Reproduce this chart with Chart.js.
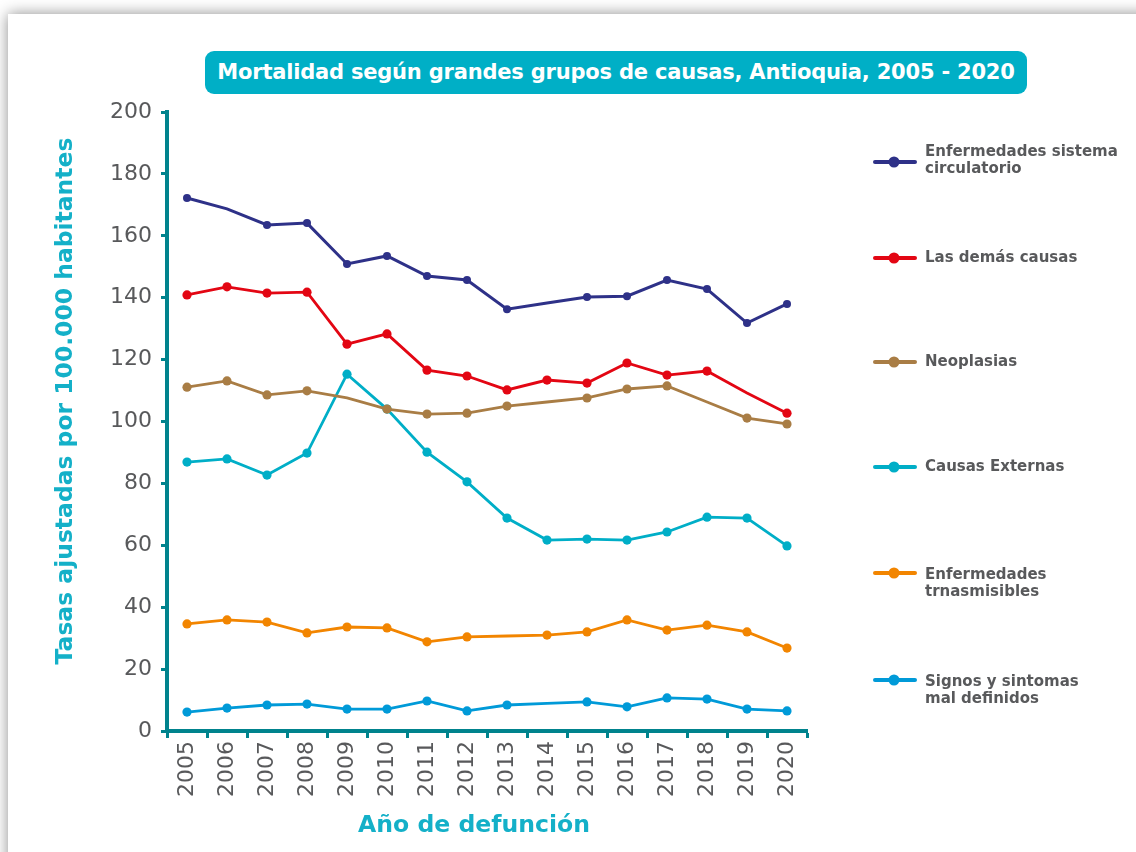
<!DOCTYPE html>
<html>
<head>
<meta charset="utf-8">
<script src="https://cdn.jsdelivr.net/npm/chart.js@4.4.1/dist/chart.umd.min.js"></script>
<style>
  html, body { margin:0; padding:0; width:1136px; height:852px; overflow:hidden; background:#ffffff; }
  #card { position:absolute; left:8px; top:14px; width:1200px; height:900px; background:#ffffff;
          box-shadow: 0 0 14px rgba(0,0,0,0.45); }
  #title { position:absolute; left:205px; top:51px; width:822px; height:43px; background:#00AFC6;
           border-radius:9px; color:#fff; font-family:"DejaVu Sans", sans-serif; font-weight:bold;
           font-size:21px; line-height:43px; text-align:center; letter-spacing:-0.2px; }
  canvas { position:absolute; left:0; top:0; }
</style>
</head>
<body>
<div id="card"></div>
<div id="title">Mortalidad según grandes grupos de causas, Antioquia, 2005 - 2020</div>
<canvas id="c" width="1136" height="852"></canvas>
<script>
const years = ['2005','2006','2007','2008','2009','2010','2011','2012','2013','2014','2015','2016','2017','2018','2019','2020'];
const yTicks = [0,20,40,60,80,100,120,140,160,180,200];

const seriesNames = [
  'Enfermedades sistema\ncirculatorio',
  'Las demás causas',
  'Neoplasias',
  'Causas Externas',
  'Enfermedades\ntrnasmisibles',
  'Signos y sintomas\nmal definidos'
];
const circulatorio  = [172.2,168.7,163.5,164.1,150.9,153.5,147.0,145.7,136.3,138.3,140.2,140.5,145.7,142.8,131.8,138.0];
const demasCausas   = [140.9,143.5,141.5,141.8,125.0,128.3,116.6,114.7,110.2,113.4,112.4,118.9,115.0,116.3,109.2,102.7];
const neoplasias    = [111.1,113.1,108.6,109.9,107.6,104.0,102.4,102.7,105.0,106.3,107.6,110.5,111.5,106.3,101.1,99.2];
const externas      = [86.9,87.9,82.7,89.8,115.3,104.0,90.1,80.5,68.8,61.7,62.0,61.7,64.3,69.1,68.8,59.8];
const transmisibles = [34.6,35.9,35.2,31.7,33.6,33.3,28.8,30.4,30.7,31.0,32.0,35.9,32.6,34.2,32.0,26.8];
const signos        = [6.1,7.4,8.4,8.7,7.1,7.1,9.7,6.5,8.4,8.9,9.4,7.8,10.7,10.3,7.1,6.5];

const seriesValues = [circulatorio, demasCausas, neoplasias, externas, transmisibles, signos];
const colors = ['#2E3188','#E30613','#A97D45','#00AEC7','#F28500','#009AD8'];
const markerSize = [4, 4.6, 4.6, 4.6, 4.6, 4.6];
// indices of points drawn without a marker in the original
const noMarker = [[1,9],[14],[4,9,13],[],[8],[9]];
const legendY = [162, 258, 362, 467, 573, 680];
const legendTextDy = [-10, 0, 0, 0, 2, 2];

const AXIS = '#00838D';
const TXT = '#58595B';
const TITLE = '#14B0C8';

const datasets = seriesValues.map((vals, i) => ({
  label: seriesNames[i],
  data: vals,
  borderColor: colors[i],
  backgroundColor: colors[i],
  borderWidth: i === 0 ? 3 : 2.8,
  pointRadius: vals.map((v, j) => noMarker[i].includes(j) ? 0 : markerSize[i]),
  pointHoverRadius: markerSize[i],
  pointBorderWidth: 0,
  tension: 0,
  fill: false
}));

function fitFont(ctx, text, targetWidth, weight, family) {
  ctx.font = weight + ' 24px ' + family;
  const w = ctx.measureText(text).width;
  const size = 24 * targetWidth / w;
  ctx.font = weight + ' ' + size.toFixed(2) + 'px ' + family;
}

const customDraw = {
  id: 'customDraw',
  afterDraw(chart) {
    const ctx = chart.ctx;
    ctx.save();
    // legend
    chart.data.datasets.forEach((ds, i) => {
      const y = legendY[i];
      ctx.strokeStyle = ds.borderColor;
      ctx.lineWidth = 4;
      ctx.lineCap = 'round';
      ctx.beginPath(); ctx.moveTo(875, y); ctx.lineTo(915, y); ctx.stroke();
      ctx.fillStyle = ds.borderColor;
      ctx.beginPath(); ctx.arc(894, y, 5.5, 0, Math.PI * 2); ctx.fill();
      ctx.fillStyle = TXT;
      ctx.font = 'bold 15px "DejaVu Sans", sans-serif';
      ctx.textAlign = 'left';
      ctx.textBaseline = 'middle';
      ds.label.split('\n').forEach((line, k) => {
        ctx.fillText(line, 925, y + legendTextDy[i] + k * 17);
      });
    });
    // axis titles
    ctx.fillStyle = TITLE;
    ctx.textAlign = 'center';
    ctx.textBaseline = 'middle';
    const fam = '"DejaVu Sans", sans-serif';
    fitFont(ctx, 'Año de defunción', 232, 'bold', fam);
    ctx.fillText('Año de defunción', 474, 826);
    ctx.translate(66, 401);
    ctx.rotate(-Math.PI / 2);
    fitFont(ctx, 'Tasas ajustadas por 100.000 habitantes', 527, 'bold', fam);
    ctx.fillText('Tasas ajustadas por 100.000 habitantes', 0, 0);
    ctx.restore();
  }
};

new Chart(document.getElementById('c'), {
  type: 'line',
  data: { labels: years, datasets },
  options: {
    responsive: false,
    animation: false,
    events: [],
    layout: { padding: { top: 112, right: 329, left: 0, bottom: 0 } },
    plugins: { legend: { display: false }, tooltip: { enabled: false }, title: { display: false } },
    scales: {
      x: {
        type: 'category',
        offset: true,
        afterFit(scale) { scale.height = 121; },
        border: { display: true, color: AXIS, width: 4 },
        grid: { display: true, offset: true, drawOnChartArea: false, drawTicks: true,
                tickLength: 7, tickWidth: 3, tickColor: AXIS, color: AXIS },
        ticks: { color: TXT, font: { family: '"DejaVu Sans", sans-serif', size: 22 },
                 maxRotation: 90, minRotation: 90, padding: 3, autoSkip: false }
      },
      y: {
        min: 0, max: 200,
        afterFit(scale) { scale.width = 167; },
        afterBuildTicks(scale) { scale.ticks = yTicks.map(v => ({ value: v })); },
        border: { display: true, color: AXIS, width: 4 },
        grid: { display: true, drawOnChartArea: false, drawTicks: true,
                tickLength: 6, tickWidth: 3, tickColor: AXIS, color: AXIS },
        ticks: { color: TXT, font: { family: '"DejaVu Sans", sans-serif', size: 22 }, padding: 9 }
      }
    }
  },
  plugins: [customDraw]
});
</script>
</body>
</html>
